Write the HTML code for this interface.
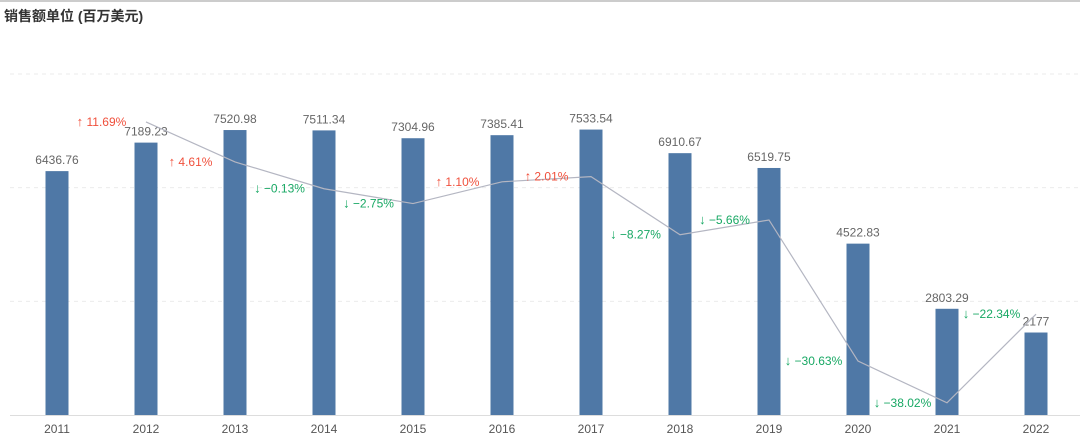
<!DOCTYPE html>
<html><head><meta charset="utf-8">
<style>
html,body{margin:0;padding:0;background:#fff;}
body{width:1080px;height:446px;overflow:hidden;position:relative;font-family:"Liberation Sans","Noto Sans CJK SC",sans-serif;}
#topline{position:absolute;left:0;top:0;width:1080px;height:2px;background:#ccc;}
#title{position:absolute;left:4px;top:6px;font-size:14px;font-weight:bold;color:#333;}
svg{position:absolute;left:0;top:0;}
</style></head><body>
<div id="topline"></div>
<div id="title">销售额单位 (百万美元)</div>
<svg id="chart" width="1080" height="446"></svg>
<script>
const years=["2011","2012","2013","2014","2015","2016","2017","2018","2019","2020","2021","2022"];
const sales=[6436.76,7189.23,7520.98,7511.34,7304.96,7385.41,7533.54,6910.67,6519.75,4522.83,2803.29,2177];
const salesLabels=["6436.76","7189.23","7520.98","7511.34","7304.96","7385.41","7533.54","6910.67","6519.75","4522.83","2803.29","2177"];
const growth=[null,11.69,4.61,-0.13,-2.75,1.10,2.01,-8.27,-5.66,-30.63,-38.02,-22.34];
const gridValues=[3000,6000,9000];
const NS="http://www.w3.org/2000/svg";
const svg=document.getElementById('chart');
const base=415, x0=57, step=89.0, bw=23;
function xs(i){return x0+i*step;}
function ys(v){return base-v*(341/9000);}
function yg(p){return 188-p*5.65;}
function mk(t,a,parent){const e=document.createElementNS(NS,t);for(const k in a)e.setAttribute(k,a[k]);(parent||svg).appendChild(e);return e;}
gridValues.forEach((g,i)=>{const l=mk('line',{x1:10,x2:1080,y1:ys(g),y2:ys(g),stroke:'#ebebeb','stroke-dasharray':'4,4'});

});
const ax=mk('line',{x1:10,x2:1080,y1:base+0.5,y2:base+0.5,stroke:'#ddd','stroke-width':1});


years.forEach((y,i)=>{
 const r=mk('rect',{x:xs(i)-bw/2,y:ys(sales[i]),width:bw,height:base-ys(sales[i]),fill:'#4f78a6'});
 
 
 const v=mk('text',{x:xs(i),y:ys(sales[i])-7,'text-anchor':'middle','font-size':12,fill:'#666'});v.textContent=salesLabels[i];
 
 
 const t=mk('text',{x:xs(i),y:433,'text-anchor':'middle','font-size':12,fill:'#555'});t.textContent=y;
 
 
});
let pts=[];
growth.forEach((g,i)=>{if(g!==null)pts.push(xs(i)+','+yg(g));});
const pl=mk('polyline',{points:pts.join(' '),fill:'none',stroke:'#b4b6c2','stroke-width':1.2});


growth.forEach((g,i)=>{
 if(g===null)return;
 const up=g>=0, col=up?'#f0503c':'#18a864';
 const cx=(xs(i-1)+xs(i))/2;
 const t=mk('text',{x:cx,y:yg(g)+4,'text-anchor':'middle','font-size':12,fill:col});
 const a=mk('tspan',{'font-weight':'bold','font-size':13},t);
 a.textContent=(up?'↑':'↓');
 const b=mk('tspan',{},t);
 b.textContent=' '+(up?'':'−')+Math.abs(g).toFixed(2)+'%';
 
 
});
</script>
</body></html>
